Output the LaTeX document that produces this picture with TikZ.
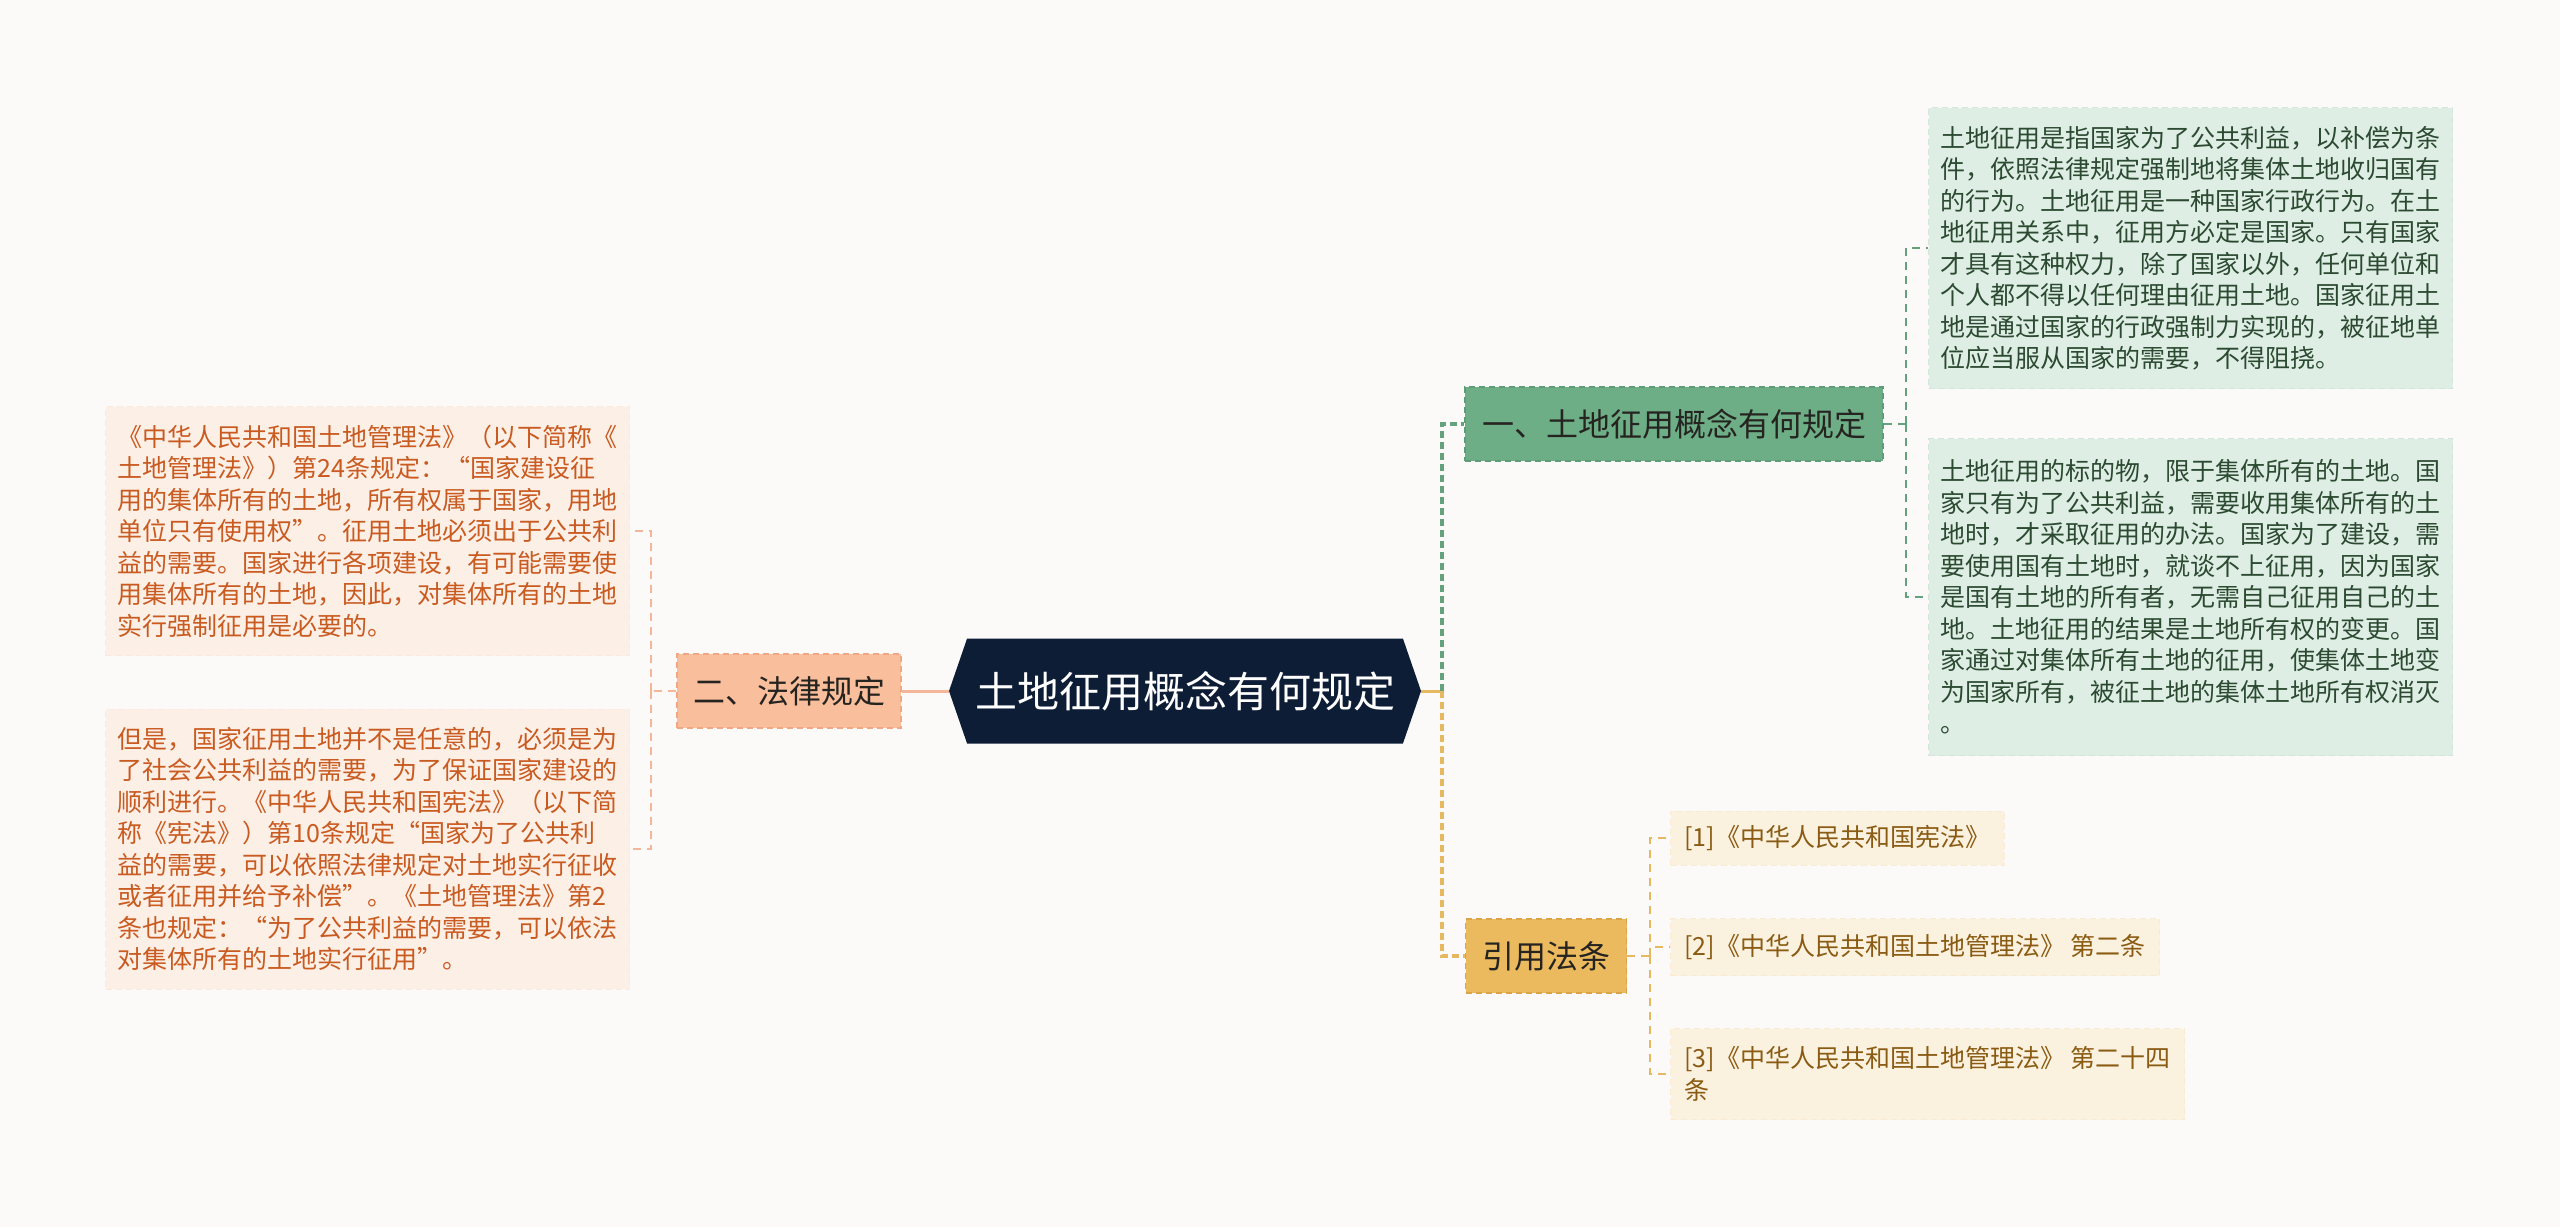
\documentclass[tikz,border=0pt]{standalone}
\usepackage{fontspec}
\setmainfont{Noto Sans CJK SC}
\usetikzlibrary{shapes.symbols, positioning}

\definecolor{paperbg}{HTML}{FCFAF8}
\definecolor{rootnavy}{HTML}{0E1D36}
\definecolor{peachfill}{HTML}{F9BE9C}
\definecolor{peachedge}{HTML}{EFA784}
\definecolor{peachpale}{HTML}{FCEFE6}
\definecolor{peachtext}{HTML}{C95A20}
\definecolor{peachline}{HTML}{F3B698}
\definecolor{greenfill}{HTML}{6DAE87}
\definecolor{greenedge}{HTML}{5C9C76}
\definecolor{greenpale}{HTML}{DFEEE5}
\definecolor{greentext}{HTML}{2C4A31}
\definecolor{greenline}{HTML}{64A27D}
\definecolor{goldfill}{HTML}{ECBA5E}
\definecolor{goldedge}{HTML}{DDA447}
\definecolor{goldpale}{HTML}{FBF1DF}
\definecolor{goldtext}{HTML}{8A5B12}
\definecolor{goldline}{HTML}{E6B862}
\definecolor{headtext}{HTML}{262420}

\begin{document}
\begin{tikzpicture}[
    x=1pt, y=-1pt,
    rootnode/.style={signal, signal to=east and west, signal pointer angle=142, fill=rootnavy, text=white, inner sep=0, minimum width=472, minimum height=105, font=\fontsize{42}{50}\selectfont},
    headbox/.style={rectangle, dashed, line width=1.5pt, dash pattern=on 6pt off 4pt, text=headtext, inner xsep=16, inner ysep=0, minimum height=74, font=\fontsize{32}{36}\selectfont},
    leafbox/.style={rectangle, dashed, line width=1pt, dash pattern=on 6pt off 4pt, align=left, inner xsep=12, inner ysep=0, font=\fontsize{25}{31.5}\selectfont},
    peachleaf/.style={leafbox, fill=peachpale, draw=peachpale!92!peachedge, text=peachtext, text width=500},
    greenleaf/.style={leafbox, fill=greenpale, draw=greenpale!90!greenedge, text=greentext, text width=500},
    goldleaf/.style={leafbox, fill=goldpale, draw=goldpale!92!goldedge, text=goldtext, inner xsep=14, font=\fontsize{25}{32}\selectfont},
    trunk/.style={line width=3.5pt, dash pattern=on 7pt off 4pt},
    twig/.style={line width=1.6pt, dash pattern=on 8pt off 6pt}
]
    \fill[paperbg] (0,0) rectangle (2560,1227);

    % centre and the three main branches
    \node (root) [rootnode] at (1185,691) {土地征用概念有何规定};
    \node (sec1) [headbox, fill=greenfill, draw=greenedge, minimum width=418] at (1674,424) {一、土地征用概念有何规定};
    \node (sec2) [headbox, fill=peachfill, draw=peachedge, minimum width=222] at (789,691) {二、法律规定};
    \node (refs) [headbox, fill=goldfill, draw=goldedge, minimum width=161] at (1546,956) {引用法条};

    % left side texts
    \node (ltxt1) [peachleaf, anchor=east, minimum height=249] at (630,531) {《中华人民共和国土地管理法》（以下简称《\\土地管理法》）第24条规定：“国家建设征\\用的集体所有的土地，所有权属于国家，用地\\单位只有使用权”。征用土地必须出于公共利\\益的需要。国家进行各项建设，有可能需要使\\用集体所有的土地，因此，对集体所有的土地\\实行强制征用是必要的。};
    \node (ltxt2) [peachleaf, anchor=east, minimum height=280] at (630,849) {但是，国家征用土地并不是任意的，必须是为\\了社会公共利益的需要，为了保证国家建设的\\顺利进行。《中华人民共和国宪法》（以下简\\称《宪法》）第10条规定“国家为了公共利\\益的需要，可以依照法律规定对土地实行征收\\或者征用并给予补偿”。《土地管理法》第2\\条也规定：“为了公共利益的需要，可以依法\\对集体所有的土地实行征用”。};

    % right side texts
    \node (rtxt1) [greenleaf, anchor=west, minimum height=281] at (1928,248) {土地征用是指国家为了公共利益，以补偿为条\\件，依照法律规定强制地将集体土地收归国有\\的行为。土地征用是一种国家行政行为。在土\\地征用关系中，征用方必定是国家。只有国家\\才具有这种权力，除了国家以外，任何单位和\\个人都不得以任何理由征用土地。国家征用土\\地是通过国家的行政强制力实现的，被征地单\\位应当服从国家的需要，不得阻挠。};
    \node (rtxt2) [greenleaf, anchor=west, minimum height=317] at (1928,597) {土地征用的标的物，限于集体所有的土地。国\\家只有为了公共利益，需要收用集体所有的土\\地时，才采取征用的办法。国家为了建设，需\\要使用国有土地时，就谈不上征用，因为国家\\是国有土地的所有者，无需自己征用自己的土\\地。土地征用的结果是土地所有权的变更。国\\家通过对集体所有土地的征用，使集体土地变\\为国家所有，被征土地的集体土地所有权消灭\\。};

    % cited laws
    \node (ref1) [goldleaf, anchor=west, minimum height=54] at (1670,838) {[1]《中华人民共和国宪法》};
    \node (ref2) [goldleaf, anchor=west, minimum height=57] at (1670,947) {[2]《中华人民共和国土地管理法》 第二条};
    \node (ref3) [goldleaf, anchor=west, minimum height=91] at (1670,1074) {[3]《中华人民共和国土地管理法》 第二十四\\条};

    % connectors
    \draw[peachline, line width=3pt] (root.west) -- (sec2.east);
    \draw[peachline, twig] (sec2.west) -- ++(-25,0) coordinate (lfork);
    \draw[peachline, twig] (lfork) |- (ltxt1.east);
    \draw[peachline, twig] (lfork) |- (ltxt2.east);

    \draw[goldline, line width=3pt] (root.east) -- ++(21,0) coordinate (rfork);
    \draw[greenline, trunk] (rfork) |- (sec1.west);
    \draw[goldline, trunk] (rfork) |- (refs.west);

    \draw[greenline, twig] (sec1.east) -- ++(22,0) coordinate (gfork);
    \draw[greenline, twig] (gfork) |- (rtxt1.west);
    \draw[greenline, twig] (gfork) |- (rtxt2.west);

    \draw[goldline, twig] (refs.east) -- ++(23,0) coordinate (yfork);
    \draw[goldline, twig] (yfork) |- (ref1.west);
    \draw[goldline, twig] (yfork) |- (ref2.west);
    \draw[goldline, twig] (yfork) |- (ref3.west);
\end{tikzpicture}
\end{document}
